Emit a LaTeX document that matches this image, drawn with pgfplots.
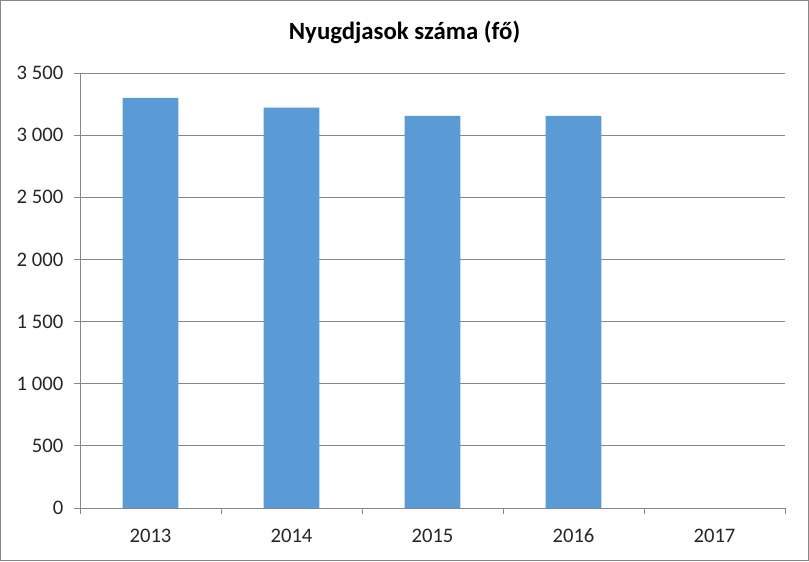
\documentclass[border=0pt]{standalone}
\usepackage{fontspec}
\setmainfont{Carlito}
\usepackage{pgfplots}
\pgfplotsset{compat=1.18}
\definecolor{barblue}{HTML}{5B9BD5}
\definecolor{gridgray}{HTML}{878787}
\begin{document}
\begin{tikzpicture}
\useasboundingbox (0,0) rectangle (606.75pt,420.75pt);
\draw[gridgray, line width=0.9pt] (0.45pt,0.45pt) rectangle (606.3pt,420.3pt);
\node[anchor=base, font=\bfseries\fontsize{18.6}{22}\selectfont] at (303.4pt,390.75pt) {Nyugdjasok száma (fő)};
\begin{axis}[
  at={(60pt,39.75pt)}, anchor=south west,
  scale only axis, width=528.75pt, height=326.25pt,
  xmin=-0.5, xmax=4.5, ymin=0, ymax=3500,
  axis x line*=bottom, axis y line*=left,
  axis line style={gridgray, line width=0.75pt, -},
  xtick={0,1,2,3,4}, xticklabels={2013,2014,2015,2016,2017},
  major x tick style={draw=none},
  minor xtick={-0.5,0.5,1.5,2.5,3.5,4.5},
  minor tick length=4.5pt,
  minor x tick style={gridgray, line width=0.75pt},
  ytick={0,500,...,3500},
  major tick length=4.5pt,
  tick align=outside,
  y tick style={gridgray, line width=0.75pt},
  ymajorgrids, grid style={gridgray, line width=0.75pt},
  tick label style={font=\fontsize{15.5}{18}\selectfont, text=black!85},
  yticklabel style={xshift=-4.5pt},
  xticklabel style={yshift=-7.5pt},
  /pgf/number format/.cd, 1000 sep={\ }, assume math mode=true,
]
\addplot[ybar, bar width=0.397, fill=barblue, draw=none] coordinates {
(0,3300) (1,3222) (2,3155) (3,3155)
};
\end{axis}
\end{tikzpicture}
\end{document}
